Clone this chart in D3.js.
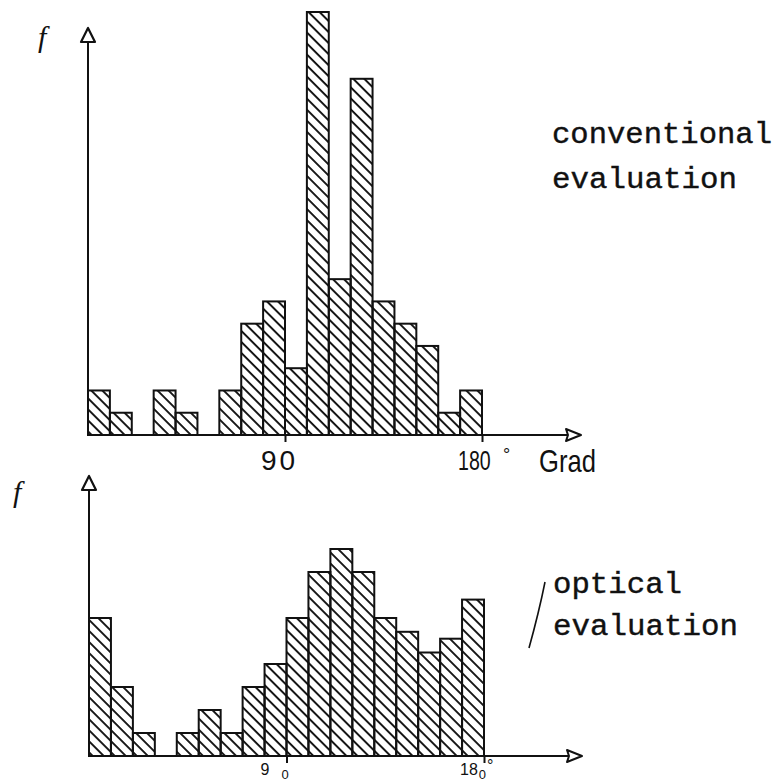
<!DOCTYPE html>
<html>
<head>
<meta charset="utf-8">
<script src="https://cdn.jsdelivr.net/npm/d3@7"></script>
<style>
  html, body { margin: 0; padding: 0; background: #fff; }
  svg { display: block; }
</style>
</head>
<body>
<svg id="chart" width="775" height="782"></svg>
<script>
// Angle bins (degrees), 10° wide, 0–180
const binStarts = [0, 10, 20, 30, 40, 50, 60, 70, 80, 90, 100, 110, 120, 130, 140, 150, 160, 170];
const binWidth = 10;

// Frequencies per bin
const conventionalValues = [2, 1, 0, 2, 1, 0, 2, 5, 6, 3, 19, 7, 16, 6, 5, 4, 1, 2];
const opticalValues      = [6, 3, 1, 0, 1, 2, 1, 3, 4, 6, 8, 9, 8, 6, 5.4, 4.5, 5.1, 6.8];

// Axis ticks
const tickValues = [90, 180];
const topTickLabels = ["90", "180"];
const bottomTickLabels = ["90", "180"];

const svg = d3.select("#chart");
const ink = "#111";

// Diagonal hatching for the bars
const defs = svg.append("defs");
const pat = defs.append("pattern")
  .attr("id", "hatch")
  .attr("patternUnits", "userSpaceOnUse")
  .attr("width", 10)
  .attr("height", 7.8)
  .attr("patternTransform", "rotate(45)");
pat.append("rect").attr("x", 0).attr("y", 0).attr("width", 10).attr("height", 1.9).attr("fill", ink);

function drawPanel(cfg) {
  const x = d3.scaleLinear().domain([0, 180]).range(cfg.xRange);
  const y = d3.scaleLinear().domain([0, cfg.yMax]).range(cfg.yRange);
  const g = svg.append("g");

  // bars
  const data = binStarts.map((s, i) => ({ s, v: cfg.values[i] })).filter(d => d.v > 0);
  g.selectAll("rect.bar").data(data).join("rect")
    .attr("class", "bar")
    .attr("x", d => x(d.s))
    .attr("width", d => x(d.s + binWidth) - x(d.s))
    .attr("y", d => y(d.v))
    .attr("height", d => y(0) - y(d.v))
    .attr("fill", "url(#hatch)")
    .attr("stroke", ink)
    .attr("stroke-width", 2);

  // x axis with ticks at 90 and 180
  const axis = d3.axisBottom(x).tickValues(tickValues).tickSize(7).tickSizeOuter(0).tickFormat("");
  const ag = g.append("g").attr("transform", `translate(0,${y(0)})`).call(axis);
  ag.select(".domain").remove();
  ag.selectAll(".tick line").attr("stroke", ink).attr("stroke-width", 2);

  const x0 = cfg.xRange[0];
  const yb = y(0);
  // x axis line + open arrow head
  g.append("line").attr("x1", x0).attr("x2", cfg.xArrow - 14).attr("y1", yb).attr("y2", yb)
    .attr("stroke", ink).attr("stroke-width", 2);
  g.append("path")
    .attr("d", `M${cfg.xArrow},${yb} L${cfg.xArrow - 15},${yb - 6} L${cfg.xArrow - 13},${yb} L${cfg.xArrow - 15},${yb + 6} Z`)
    .attr("fill", "#fff").attr("stroke", ink).attr("stroke-width", 2).attr("stroke-linejoin", "round");

  // y axis line + open arrow head
  g.append("line").attr("x1", x0).attr("x2", x0).attr("y1", yb).attr("y2", cfg.yArrow + 14)
    .attr("stroke", ink).attr("stroke-width", 2);
  g.append("path")
    .attr("d", `M${x0},${cfg.yArrow} L${x0 - 7},${cfg.yArrow + 14} L${x0 + 7},${cfg.yArrow + 14} Z`)
    .attr("fill", "#fff").attr("stroke", ink).attr("stroke-width", 2.2).attr("stroke-linejoin", "round");

  // y axis name
  g.append("text")
    .attr("x", cfg.fPos[0]).attr("y", cfg.fPos[1])
    .attr("font-family", "'Liberation Serif', serif")
    .attr("font-style", "italic")
    .attr("font-size", 30)
    .attr("fill", ink)
    .text("f");

  return { g, x, y };
}

// ---- conventional evaluation ----
const upperPanel = drawPanel({
  values: conventionalValues,
  xRange: [88, 482],
  yRange: [435, 12],
  yMax: 19,
  xArrow: 581,
  yArrow: 28,
  fPos: [38, 47]
});

const sans = "'Liberation Sans', Arial, sans-serif";
// tick labels, drawn in a narrow hand-lettered proportion
upperPanel.g.selectAll("text.tl").data(tickValues).join("text")
  .attr("class", "tl")
  .attr("transform", (d, i) => i === 0
    ? `translate(${upperPanel.x(d) - 24},470)`
    : `translate(${upperPanel.x(d) - 24},470) scale(0.7,1)`)
  .attr("font-family", sans)
  .attr("font-size", 28)
  .attr("fill", ink)
  .attr("letter-spacing", (d, i) => i === 0 ? 3 : 0)
  .text((d, i) => topTickLabels[i]);

upperPanel.g.append("text")
  .attr("x", 503).attr("y", 461)
  .attr("font-family", sans)
  .attr("font-size", 18).attr("fill", ink)
  .text("°");

upperPanel.g.append("text")
  .attr("transform", "translate(539,472) scale(0.8,1)")
  .attr("font-family", sans)
  .attr("font-size", 32).attr("fill", ink)
  .text("Grad");

const mono = "'Liberation Mono', 'Courier New', monospace";
upperPanel.g.append("text")
  .attr("x", 552).attr("y", 143)
  .attr("font-family", mono).attr("font-size", 30).attr("fill", ink)
  .attr("stroke", ink).attr("stroke-width", 0.4)
  .attr("textLength", 220).attr("lengthAdjust", "spacingAndGlyphs")
  .text("conventional");
upperPanel.g.append("text")
  .attr("x", 552).attr("y", 188)
  .attr("font-family", mono).attr("font-size", 30).attr("fill", ink)
  .attr("stroke", ink).attr("stroke-width", 0.4)
  .attr("textLength", 185).attr("lengthAdjust", "spacingAndGlyphs")
  .text("evaluation");

// ---- optical evaluation ----
const lowerPanel = drawPanel({
  values: opticalValues,
  xRange: [89, 484],
  yRange: [756, 549],
  yMax: 9,
  xArrow: 582,
  yArrow: 476,
  fPos: [13, 502]
});

// hand-lettered tick labels below the lower axis
bottomTickLabels.forEach((lab, i) => {
  const t = lowerPanel.g.append("text")
    .attr("x", lowerPanel.x(tickValues[i]) + (i === 0 ? -26 : -24))
    .attr("y", 775)
    .attr("font-family", sans)
    .attr("font-size", 16)
    .attr("fill", ink);
  const head = lab.slice(0, -1);
  const tail = lab.slice(-1);
  t.append("tspan").text(head);
  t.append("tspan").attr("dx", i === 0 ? 12 : 1).attr("dy", 4).attr("font-size", 13).text(tail);
  if (i === 1) t.append("tspan").attr("dx", 1).attr("dy", -8).attr("font-size", 16).text("°");
});

lowerPanel.g.append("text")
  .attr("x", 553).attr("y", 593)
  .attr("font-family", mono).attr("font-size", 30).attr("fill", ink)
  .attr("stroke", ink).attr("stroke-width", 0.4)
  .attr("textLength", 129).attr("lengthAdjust", "spacingAndGlyphs")
  .text("optical");
lowerPanel.g.append("text")
  .attr("x", 553).attr("y", 635)
  .attr("font-family", mono).attr("font-size", 30).attr("fill", ink)
  .attr("stroke", ink).attr("stroke-width", 0.4)
  .attr("textLength", 185).attr("lengthAdjust", "spacingAndGlyphs")
  .text("evaluation");

// pen stroke beside the lower label
lowerPanel.g.append("path")
  .attr("d", "M545,582 Q539,612 529,648")
  .attr("fill", "none").attr("stroke", ink).attr("stroke-width", 1.6);
</script>
</body>
</html>
